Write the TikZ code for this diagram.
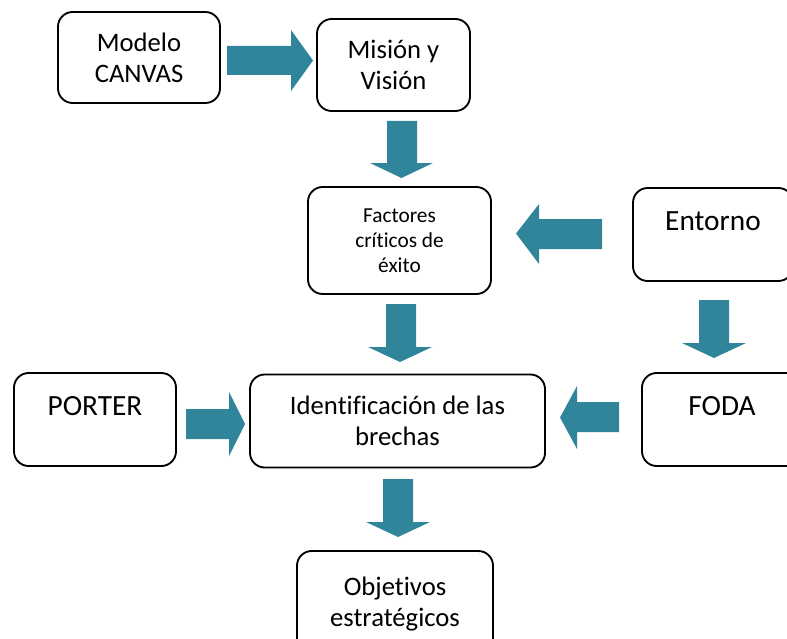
\documentclass[tikz,border=0pt]{standalone}
\usepackage{fontspec}
\setmainfont{Carlito}[Ligatures=NoCommon]
\newdimen\pxu \pxu=0.75pt
\definecolor{arrowteal}{RGB}{49,133,155}
\tikzset{
  boxnode/.style={draw=black, line width=1.4pt, rounded corners=11pt, align=center, inner sep=0pt, fill=white},
  bigtext/.style={font=\fontsize{20pt}{23.25pt}\selectfont},
  wordtext/.style={font=\fontsize{22pt}{23.25pt}\selectfont},
  smalltext/.style={font=\fontsize{16pt}{18.6pt}\selectfont},
  blockarrow/.style={fill=arrowteal, draw=none}
}
\begin{document}
\begin{tikzpicture}[x=0.75pt, y=-0.75pt]
\useasboundingbox (0,0) rectangle (787,638);
% boxes
\node[boxnode, bigtext, minimum width=162\pxu, minimum height=91\pxu] (canvas) at (139,57.5) {Modelo\\CANVAS};
\node[boxnode, bigtext, minimum width=153\pxu, minimum height=92\pxu] (mision) at (393.5,65) {Misión y\\Visión};
\node[boxnode, smalltext, minimum width=183\pxu, minimum height=107\pxu] (factores) at (399.5,240.5) {Factores\\críticos de\\éxito};
\node[boxnode, wordtext, minimum width=160\pxu, minimum height=93\pxu] (entorno) at (713,234.5) {Entorno\\[-3pt]\mbox{}};
\node[boxnode, wordtext, minimum width=162\pxu, minimum height=93\pxu] (porter) at (95,419.5) {PORTER\\[-3pt]\mbox{}};
\node[boxnode, bigtext, minimum width=295\pxu, minimum height=93\pxu] (ident) at (397.5,421) {Identificación de las\\brechas};
\node[boxnode, wordtext, minimum width=160\pxu, minimum height=93\pxu] (foda) at (722,419.5) {FODA\\[-3pt]\mbox{}};
\node[boxnode, bigtext, minimum width=196\pxu, minimum height=106\pxu] (objetivos) at (395,604) {Objetivos\\estratégicos};
% block arrows
\fill[blockarrow] (227,46) -- (291,46) -- (291,30) -- (313,60.5) -- (291,91) -- (291,75) -- (227,75) -- cycle;
\fill[blockarrow] (387,121) -- (417,121) -- (417,163) -- (433,163) -- (401.5,178) -- (370,163) -- (387,163) -- cycle;
\fill[blockarrow] (602,219) -- (539,219) -- (539,204) -- (516,233.5) -- (539,264) -- (539,249) -- (602,249) -- cycle;
\fill[blockarrow] (386,304) -- (416,304) -- (416,347) -- (432,347) -- (400,362) -- (368,347) -- (386,347) -- cycle;
\fill[blockarrow] (699,300) -- (729,300) -- (729,343) -- (746,343) -- (714,358) -- (682,343) -- (699,343) -- cycle;
\fill[blockarrow] (619,402) -- (577,402) -- (577,386) -- (560,417.5) -- (577,449) -- (577,432) -- (619,432) -- cycle;
\fill[blockarrow] (186,409) -- (229,409) -- (229,392) -- (245,424) -- (229,456) -- (229,439) -- (186,439) -- cycle;
\fill[blockarrow] (383,479) -- (413,479) -- (413,522) -- (430,522) -- (398,537) -- (366,522) -- (383,522) -- cycle;
\end{tikzpicture}
\end{document}
